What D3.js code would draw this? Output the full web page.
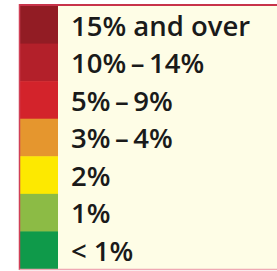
<!DOCTYPE html>
<html><head><meta charset="utf-8">
<script src="https://cdn.jsdelivr.net/npm/d3@7"></script>
<style>html,body{margin:0;padding:0;background:#fff;}</style>
</head><body>
<script>
const labels = ["15% and over","10%\u2009\u2013\u200914%","5%\u2009\u2013\u20099%","3%\u2009\u2013\u20094%","2%","1%","< 1%"];
const colors = ["#921c24","#b3202a","#d3232b","#e5962e","#fde900","#8cbb45","#0f9a4a"];

const W = 277, H = 271;
const svg = d3.select("body").append("svg").attr("width", W).attr("height", H);
const x0 = 19.5, y0 = 6, y1 = 269;
const y = d3.scaleBand().domain(d3.range(labels.length)).range([y0, y1]).padding(0);

svg.append("rect").attr("x", x0).attr("y", y0).attr("width", W - x0 + 2).attr("height", y1 - y0)
  .attr("fill", "#fefde6");
svg.selectAll("rect.sw").data(labels).join("rect").attr("class","sw")
  .attr("x", x0).attr("y", (d,i)=>y(i)).attr("width", 38.5).attr("height", y.bandwidth()+0.5)
  .attr("fill", (d,i)=>colors[i]);
svg.selectAll("text").data(labels).join("text")
  .attr("x", 71).attr("y", (d,i)=>y(i)+y.bandwidth()/2+10.8)
  .attr("font-family","'Open Sans', sans-serif").attr("font-weight",600).attr("font-size",27.5)
  .attr("fill","#1a1a1a").text(d=>d);
// borders
svg.append("line").attr("x1", x0).attr("x2", W).attr("y1", 5).attr("y2", 5).attr("stroke","#c8334a").attr("stroke-width",2);
svg.append("line").attr("x1", x0).attr("x2", x0).attr("y1", 4).attr("y2", 270).attr("stroke","#d04057").attr("stroke-width",1.5);
svg.append("line").attr("x1", x0).attr("x2", W).attr("y1", 269.5).attr("y2", 269.5).attr("stroke","#f0a8b4").attr("stroke-width",1.5);
</script>
</body></html>
